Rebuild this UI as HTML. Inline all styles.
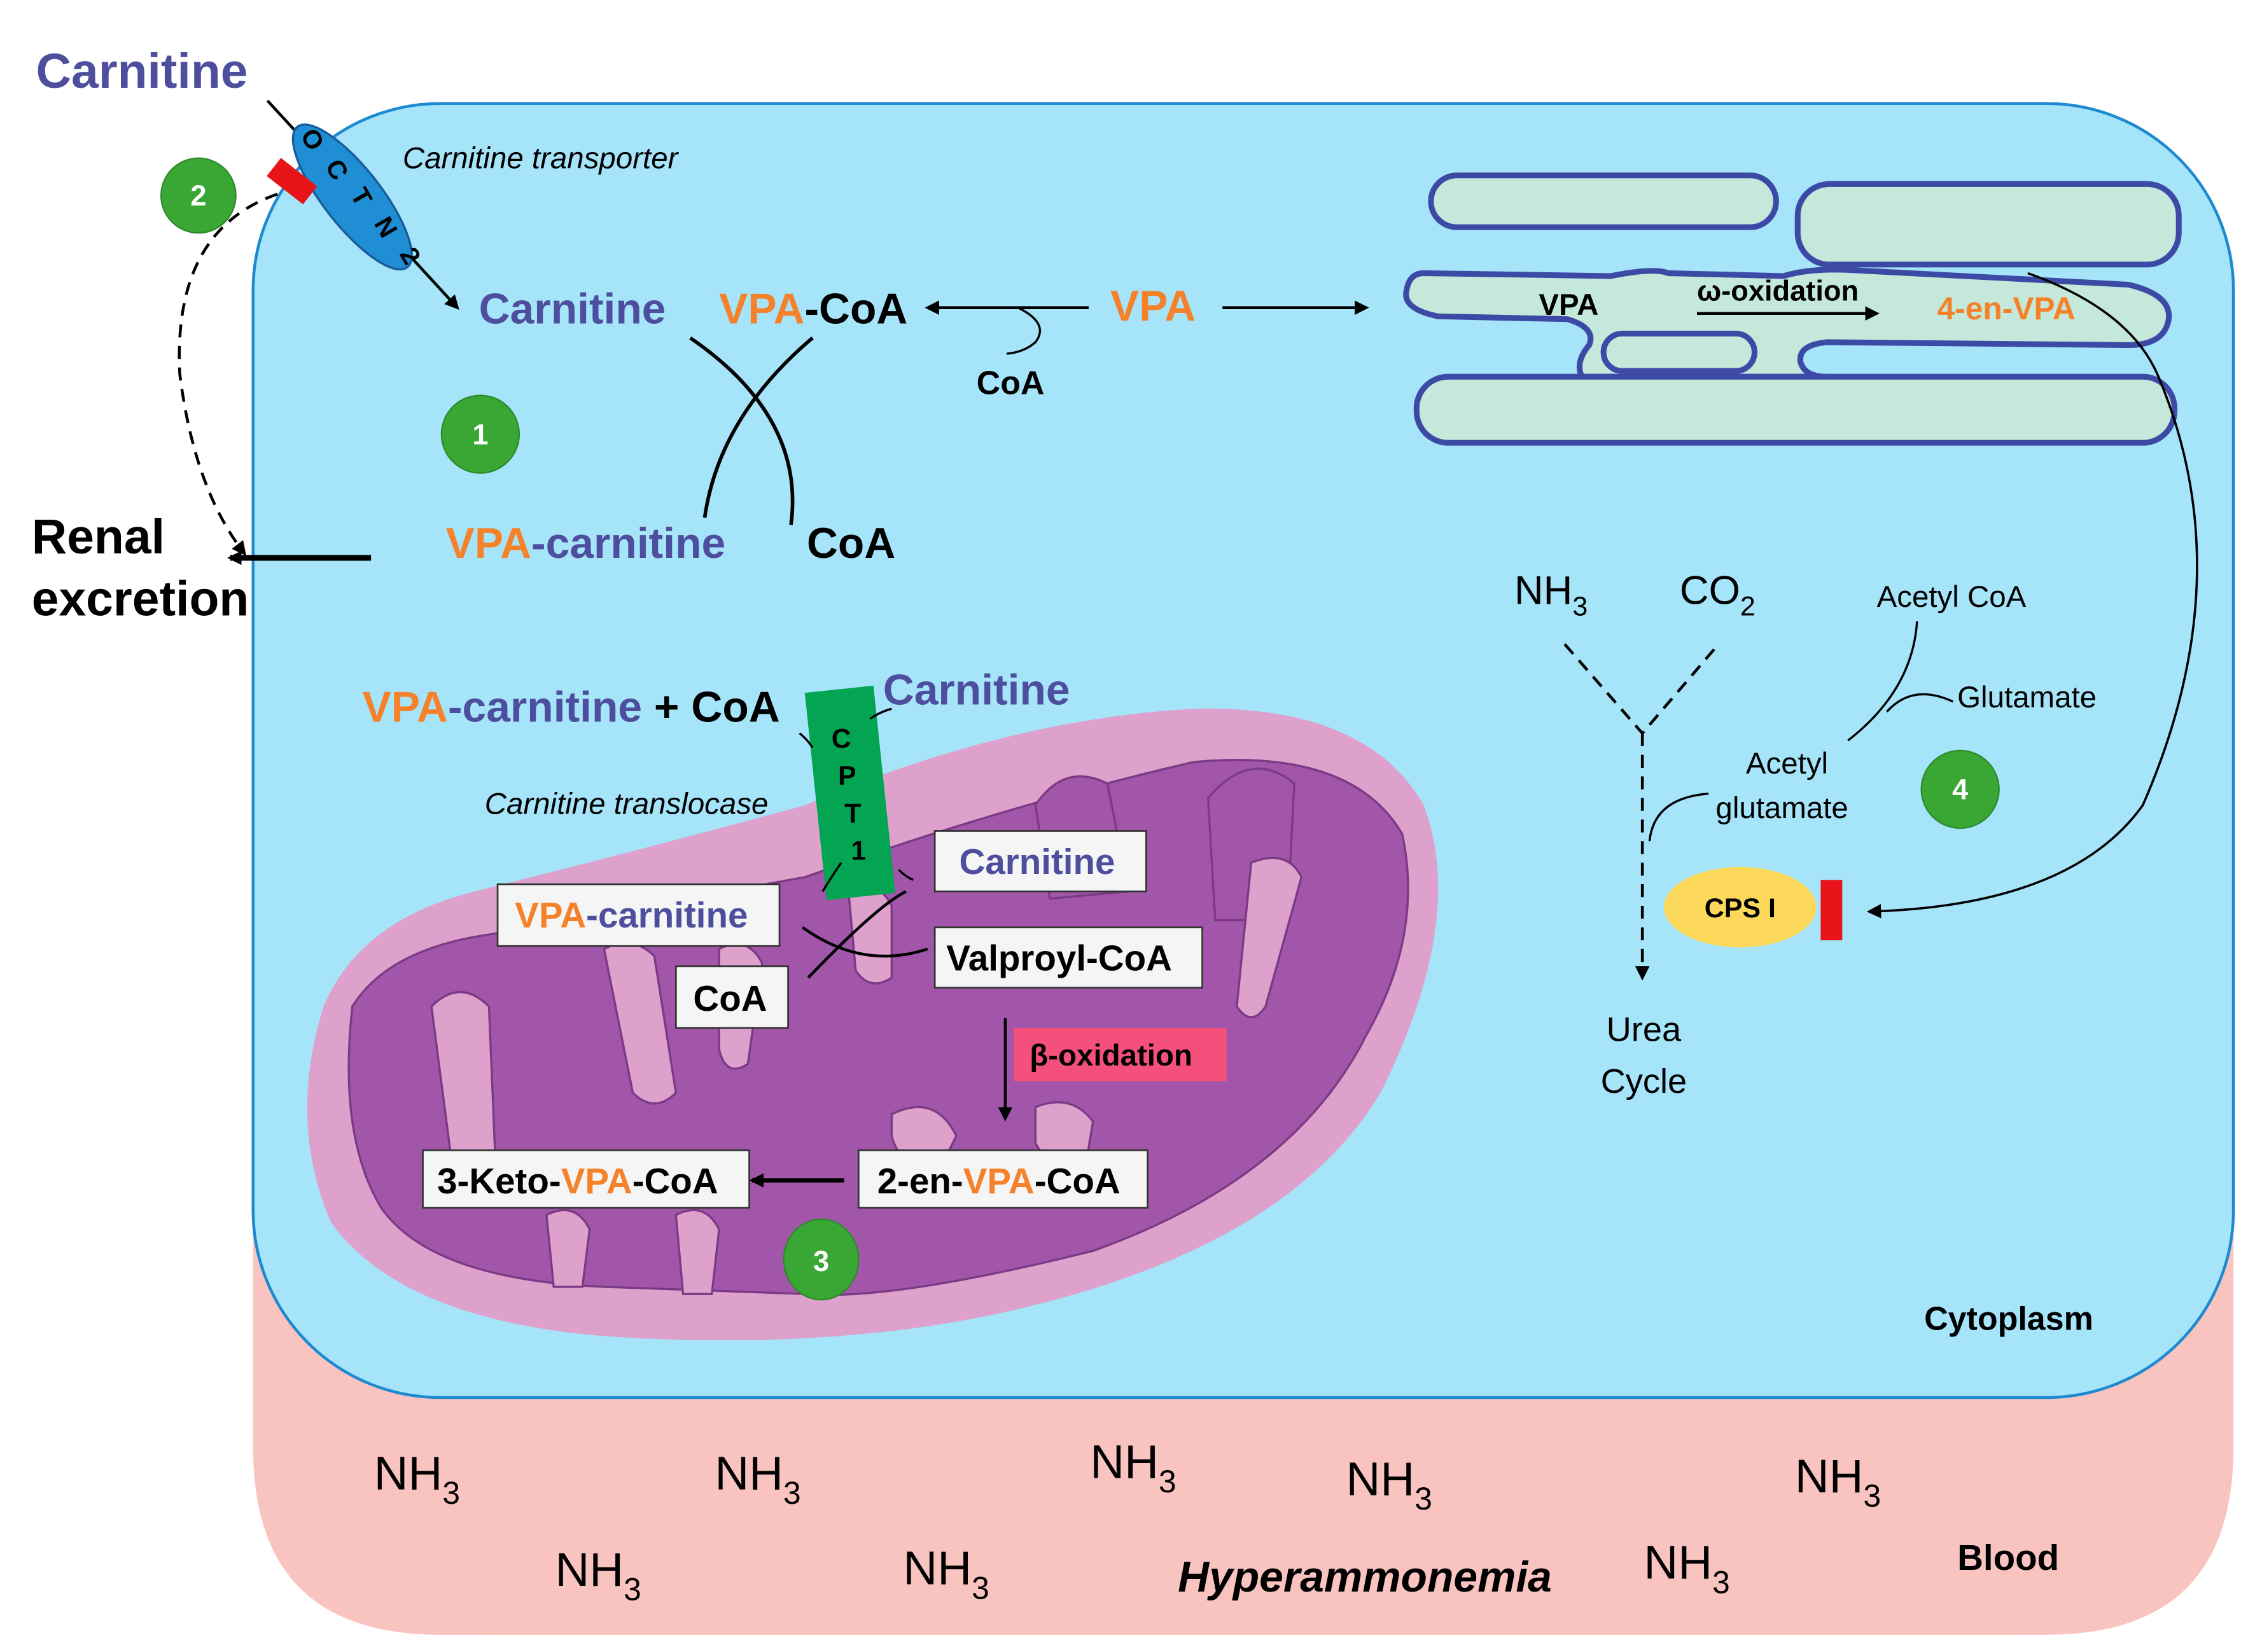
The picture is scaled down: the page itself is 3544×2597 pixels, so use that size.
<!DOCTYPE html>
<html><head><meta charset="utf-8"><style>
html,body{margin:0;padding:0;background:#fff;}
svg{display:block;}
text{font-family:"Liberation Sans",Arial,sans-serif;}
.b{font-weight:bold;}
.bl{fill:#4d4f9e;}
.or{fill:#f5822a;}
</style></head><body>
<svg width="3544" height="2597" viewBox="0 0 1568 1149" xmlns="http://www.w3.org/2000/svg">
<defs>
<marker id="ah" markerWidth="10" markerHeight="10" refX="8" refY="5" orient="auto" markerUnits="userSpaceOnUse"><path d="M0,0 L10,5 L0,10 z" fill="#000"/></marker>
</defs>
<path d="M176,700 H1553 V1007 Q1553,1137 1423,1137 H306 Q176,1137 176,1007 Z" fill="#f9c4c0"/>
<rect x="176" y="72" width="1377" height="900" rx="130" fill="#a6e4f9" stroke="#1d8ad0" stroke-width="2"/>

<!-- ER-like structure -->
<g fill="#c4e8da" stroke="#3c4aa6" stroke-width="4">
<rect x="995" y="122" width="240" height="36" rx="18"/>
<rect x="1250" y="128" width="265" height="56" rx="22"/>
<path d="M990,190 L1120,192 Q1150,186 1160,190 L1240,192 Q1260,186 1290,188 L1480,198 Q1510,205 1508,222 Q1505,240 1480,240 L1270,238 Q1250,240 1252,252 Q1255,262 1270,262 L1100,262 Q1095,252 1105,240 Q1110,228 1090,222 L1000,220 Q975,215 978,202 Q980,190 990,190 Z"/>
<rect x="985" y="262" width="527" height="46" rx="22"/>
<rect x="1115" y="232" width="105" height="26" rx="13"/>
</g>
<text x="1070" y="219" font-size="21" class="b">VPA</text>
<text x="1180" y="209" font-size="20" class="b">ω-oxidation</text>
<line x1="1180" y1="218" x2="1305" y2="218" stroke="#000" stroke-width="2" marker-end="url(#ah)"/>
<text x="1347" y="222" font-size="22" class="b or">4-en-VPA</text>
<path d="M1410,190 Q1480,215 1500,260 Q1560,400 1490,560 Q1440,630 1300,634" fill="none" stroke="#000" stroke-width="1.6" marker-end="url(#ah)"/>

<text x="25" y="61" font-size="34" class="b bl">Carnitine</text>
<line x1="186" y1="70" x2="318" y2="214" stroke="#000" stroke-width="2" marker-end="url(#ah)"/>
<ellipse cx="245" cy="137" rx="20" ry="62" transform="rotate(-38 245 137)" fill="#1f8ed4" stroke="#1a5a9a" stroke-width="1.5"/>
<g font-size="18" class="b" text-anchor="middle">
<text x="212" y="100" transform="rotate(60 212 100)">O</text>
<text x="229" y="121" transform="rotate(60 229 121)">C</text>
<text x="246" y="140" transform="rotate(60 246 140)">T</text>
<text x="263" y="161" transform="rotate(60 263 161)">N</text>
<text x="280" y="181" transform="rotate(60 280 181)">2</text>
</g>
<rect x="187" y="118" width="32" height="16" fill="#e8141a" transform="rotate(38 203 126)"/>
<path d="M193,135 Q120,160 125,260 Q135,340 170,385" fill="none" stroke="#000" stroke-width="2" stroke-dasharray="9,6" marker-end="url(#ah)"/>
<text x="280" y="117" font-size="21" font-style="italic">Carnitine transporter</text>
<circle cx="138" cy="136" r="26" fill="#3aa634" stroke="#2d8a2a"/>
<text x="138" y="143" font-size="20" class="b" fill="#fff" text-anchor="middle">2</text>

<text x="22" y="385" font-size="34" class="b">Renal</text>
<text x="22" y="428" font-size="34" class="b">excretion</text>
<line x1="258" y1="388" x2="160" y2="388" stroke="#000" stroke-width="4" marker-end="url(#ah)"/>

<text x="333" y="225" font-size="30" class="b bl">Carnitine</text>
<text x="500" y="225" font-size="30" class="b"><tspan class="or">VPA</tspan>-CoA</text>
<text x="772" y="223" font-size="30" class="b or">VPA</text>
<line x1="757" y1="214" x2="645" y2="214" stroke="#000" stroke-width="2" marker-end="url(#ah)"/>
<line x1="850" y1="214" x2="950" y2="214" stroke="#000" stroke-width="2" marker-end="url(#ah)"/>
<path d="M708,214 Q730,225 720,238 Q712,245 700,246" fill="none" stroke="#000" stroke-width="1.5"/>
<text x="679" y="274" font-size="23" class="b">CoA</text>
<path d="M480,235 Q560,290 550,365" fill="none" stroke="#000" stroke-width="2.5"/>
<path d="M565,235 Q500,290 490,360" fill="none" stroke="#000" stroke-width="2.5"/>
<circle cx="334" cy="302" r="27" fill="#3aa634" stroke="#2d8a2a"/>
<text x="334" y="309" font-size="20" class="b" fill="#fff" text-anchor="middle">1</text>
<text x="310" y="388" font-size="30" class="b"><tspan class="or">VPA</tspan><tspan class="bl">-carnitine</tspan></text>
<text x="561" y="388" font-size="30" class="b">CoA</text>

<!-- mitochondrion -->
<path d="M225,700 Q250,640 330,620 Q450,590 560,560 Q700,500 830,493 Q950,490 990,560 Q1020,640 960,760 Q900,860 730,905 Q600,940 430,930 Q280,920 230,850 Q200,780 225,700 Z" fill="#dea1cc"/>
<path d="M245,700 Q270,660 340,650 L560,610 Q700,560 830,530 Q940,520 975,580 Q990,650 950,720 Q900,820 760,870 Q620,905 560,900 L420,895 Q300,890 265,840 Q235,790 245,700 Z" fill="#a256a9" stroke="#7a3a84" stroke-width="1.5"/>
<g fill="#a256a9" stroke="#7a3a84" stroke-width="1.5">
<path d="M720,560 Q740,530 770,545 L785,620 L730,625 Z"/>
<path d="M840,555 Q870,520 900,545 L895,640 L845,640 Z"/>
</g>
<g fill="#dea1cc" stroke="#7a3a84" stroke-width="1.5">
<path d="M300,700 Q320,680 340,700 L345,820 Q330,830 315,815 Z"/>
<path d="M420,660 Q440,650 455,665 L470,760 Q455,775 440,760 Z"/>
<path d="M500,660 Q520,650 530,670 L520,740 Q505,750 500,730 Z"/>
<path d="M590,620 Q610,610 620,630 L620,680 Q605,690 595,675 Z"/>
<path d="M870,600 Q895,590 905,610 L880,700 Q870,715 860,700 Z"/>
<path d="M620,775 Q650,760 665,790 L650,820 Q625,810 620,790 Z"/>
<path d="M720,770 Q745,760 760,780 L755,810 Q730,815 720,795 Z"/>
<path d="M380,845 Q400,835 410,855 L405,895 L385,895 Z"/>
<path d="M470,845 Q490,835 500,855 L495,900 L475,900 Z"/>
</g>
<text x="252" y="502" font-size="30" class="b"><tspan class="or">VPA</tspan><tspan class="bl">-carnitine</tspan><tspan fill="#000"> + CoA</tspan></text>
<text x="614" y="490" font-size="30" class="b bl">Carnitine</text>
<text x="337" y="566" font-size="21" font-style="italic">Carnitine translocase</text>
<rect x="567" y="479" width="48" height="145" fill="#03a553" transform="rotate(-6 591 551)"/>
<g font-size="19" class="b" text-anchor="middle">
<text x="585" y="520">C</text><text x="589" y="546">P</text><text x="593" y="572">T</text><text x="597" y="598">1</text>
</g>
<path d="M556,510 Q562,515 565,520 M605,500 Q612,495 620,493" fill="none" stroke="#000" stroke-width="1.5"/>
<path d="M572,620 Q580,607 585,600 M625,605 Q630,610 635,612" fill="none" stroke="#000" stroke-width="1.5"/>
<path d="M558,645 Q600,675 645,660" fill="none" stroke="#000" stroke-width="2"/>
<path d="M562,680 Q610,630 630,620" fill="none" stroke="#000" stroke-width="2"/>
<g stroke="#333" stroke-width="1.2" fill="#f5f5f5">
<rect x="346" y="615" width="196" height="43"/>
<rect x="650" y="578" width="147" height="42"/>
<rect x="650" y="645" width="186" height="42"/>
<rect x="470" y="672" width="78" height="43"/>
<rect x="294" y="800" width="227" height="40"/>
<rect x="597" y="800" width="201" height="40"/>
</g>
<text x="358" y="645" font-size="25" class="b"><tspan class="or">VPA</tspan><tspan class="bl">-carnitine</tspan></text>
<text x="667" y="608" font-size="25" class="b bl">Carnitine</text>
<text x="658" y="675" font-size="25" class="b">Valproyl-CoA</text>
<text x="482" y="703" font-size="25" class="b">CoA</text>
<line x1="699" y1="708" x2="699" y2="778" stroke="#000" stroke-width="2" marker-end="url(#ah)"/>
<rect x="705" y="715" width="148" height="37" fill="#f5507c"/>
<text x="716" y="741" font-size="21" class="b">β-oxidation</text>
<text x="304" y="830" font-size="25" class="b">3-Keto-<tspan class="or">VPA</tspan>-CoA</text>
<text x="610" y="830" font-size="25" class="b">2-en-<tspan class="or">VPA</tspan>-CoA</text>
<line x1="587" y1="821" x2="523" y2="821" stroke="#000" stroke-width="3" marker-end="url(#ah)"/>
<ellipse cx="571" cy="876" rx="26" ry="28" fill="#3aa634" stroke="#2d8a2a"/>
<text x="571" y="884" font-size="20" class="b" fill="#fff" text-anchor="middle">3</text>

<text x="1053" y="420" font-size="28">NH<tspan font-size="19" dy="8">3</tspan></text>
<text x="1168" y="420" font-size="28">CO<tspan font-size="19" dy="8">2</tspan></text>
<path d="M1088,448 L1142,510 L1195,448" fill="none" stroke="#000" stroke-width="2" stroke-dasharray="9,6"/>
<line x1="1142" y1="510" x2="1142" y2="680" stroke="#000" stroke-width="2" stroke-dasharray="9,6" marker-end="url(#ah)"/>
<text x="1305" y="422" font-size="21">Acetyl CoA</text>
<text x="1361" y="492" font-size="21">Glutamate</text>
<path d="M1333,432 Q1330,480 1285,515" fill="none" stroke="#000" stroke-width="1.5"/>
<path d="M1358,488 Q1330,475 1312,495" fill="none" stroke="#000" stroke-width="1.5"/>
<text x="1214" y="538" font-size="21">Acetyl</text>
<text x="1193" y="569" font-size="21">glutamate</text>
<path d="M1188,552 Q1150,555 1147,585" fill="none" stroke="#000" stroke-width="1.5"/>
<circle cx="1363" cy="549" r="27" fill="#3aa634" stroke="#2d8a2a"/>
<text x="1363" y="556" font-size="20" class="b" fill="#fff" text-anchor="middle">4</text>
<ellipse cx="1210" cy="631" rx="53" ry="28" fill="#fcd95a"/>
<text x="1210" y="638" font-size="19" class="b" text-anchor="middle">CPS I</text>
<rect x="1266" y="612" width="15" height="42" fill="#e8141a"/>
<text x="1143" y="724" font-size="24" text-anchor="middle">Urea</text>
<text x="1143" y="760" font-size="24" text-anchor="middle">Cycle</text>
<text x="1338" y="925" font-size="23" class="b">Cytoplasm</text>

<g font-size="33">
<text x="260" y="1036">NH<tspan font-size="22" dy="10">3</tspan></text>
<text x="497" y="1036">NH<tspan font-size="22" dy="10">3</tspan></text>
<text x="758" y="1028">NH<tspan font-size="22" dy="10">3</tspan></text>
<text x="936" y="1040">NH<tspan font-size="22" dy="10">3</tspan></text>
<text x="1248" y="1038">NH<tspan font-size="22" dy="10">3</tspan></text>
<text x="386" y="1103">NH<tspan font-size="22" dy="10">3</tspan></text>
<text x="628" y="1102">NH<tspan font-size="22" dy="10">3</tspan></text>
<text x="1143" y="1098">NH<tspan font-size="22" dy="10">3</tspan></text>
</g>
<text x="819" y="1107" font-size="30" class="b" font-style="italic">Hyperammonemia</text>
<text x="1361" y="1092" font-size="25" class="b">Blood</text>
</svg>
</body></html>
